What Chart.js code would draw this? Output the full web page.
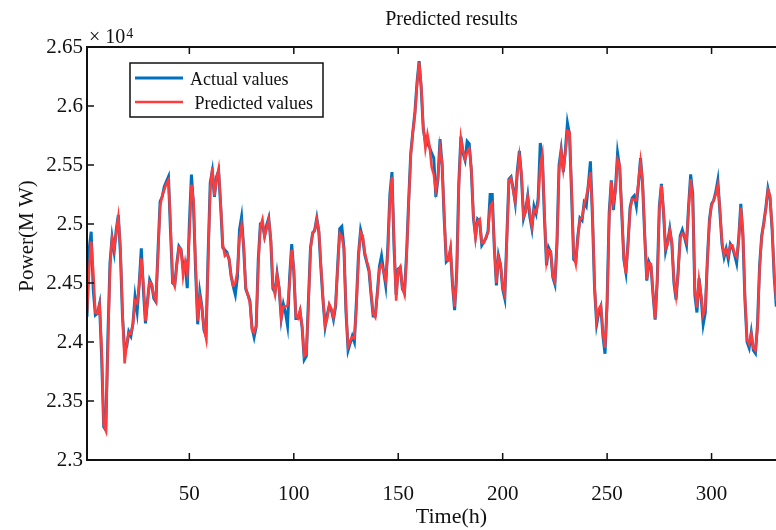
<!DOCTYPE html>
<html>
<head>
<meta charset="utf-8">
<script src="https://cdn.jsdelivr.net/npm/chart.js@4.4.1/dist/chart.umd.min.js"></script>
<style>
  html, body { margin: 0; padding: 0; background: #fff; overflow: hidden; }
  #wrap { width: 776px; height: 530px; overflow: hidden; }
  canvas { display: block; }
</style>
</head>
<body>
<div id="wrap"><canvas id="chart" width="830" height="530"></canvas></div>
<script>
// hourly load, MW (hours 1..331 visible in the figure)
const actualValues = [
  24215, 24780, 24934, 24440, 24229, 24243, 24322, 23876, 23282, 23254,
  24045, 24667, 24887, 24765, 24949, 25076, 24751, 24215, 23932, 23960,
  24087, 24050, 24158, 24384, 24257, 24497, 24794, 24440, 24158, 24356,
  24525, 24483, 24370, 24342, 24780, 25189, 25231, 25316, 25359, 25400,
  24930, 24500, 24484, 24668, 24810, 24781, 24640, 24668, 24456, 25000,
  25418, 25150, 24600, 24150, 24420, 24300, 24100, 24050, 24750, 25350,
  25450, 25230, 25400, 25450, 25150, 24800, 24780, 24760, 24700, 24560,
  24470, 24400, 24550, 24950, 25060, 24800, 24450, 24400, 24350, 24120,
  24040, 24130, 24700, 25000, 25000, 24900, 24990, 25050, 24850, 24450,
  24420, 24580, 24450, 24200, 24320, 24250, 24140, 24550, 24830, 24600,
  24200, 24200, 24260, 24120, 23850, 23880, 24350, 24800, 24920, 24950,
  25050, 24930, 24620, 24350, 24130, 24230, 24310, 24270, 24190, 24300,
  24650, 24960, 24979, 24800, 24250, 23930, 23990, 24050, 24000, 24350,
  24750, 24950, 24880, 24740, 24670, 24600, 24400, 24220, 24220, 24420,
  24640, 24730, 24600, 24480, 24800, 25250, 25440, 24800, 24400, 24620,
  24630, 24450, 24420, 24750, 25200, 25600, 25780, 25950, 26200, 26380,
  26150, 25800, 25700, 25680, 25650, 25600, 25560, 25230, 25380, 25720,
  25500, 25050, 24680, 24700, 24780, 24480, 24270, 24600, 25350, 25740,
  25600, 25540, 25700, 25680, 25450, 25050, 24900, 25040, 25020, 24820,
  24850, 24880, 24940, 25250, 25250, 24800, 24480, 24730, 24650, 24450,
  24370, 24900, 25380, 25400, 25300, 25180, 25450, 25620, 25400, 25050,
  25120, 25240, 25060, 24960, 25150, 25090, 25220, 25686, 25560, 25050,
  24650, 24800, 24760, 24550, 24490, 24850, 25500, 25630, 25440, 25620,
  25856, 25760, 25250, 24700, 24680, 24900, 25050, 25030, 25180, 25150,
  25330, 25531, 25050, 24450, 24150, 24250, 24300, 24050, 23900, 24350,
  25100, 25370, 25120, 25300, 25602, 25480, 25100, 24700, 24590, 24840,
  25140, 25220, 25240, 25150, 25340, 25559, 25330, 24900, 24520, 24680,
  24640, 24400, 24190, 24530, 25150, 25340, 25100, 24770, 24850, 24960,
  24830, 24500, 24360, 24600, 24900, 24950, 24890, 24820, 25150, 25420,
  25250, 24400, 24250, 24540, 24380, 24150, 24250, 24700, 25040, 25170,
  25200, 25270, 25370, 25100, 24830, 24720, 24790, 24700, 24830, 24800,
  24740, 24668, 24880, 25170, 24900, 24350, 24000, 23950, 24080, 23930,
  23904, 24150, 24650, 24900, 25010, 25140, 25300, 25220, 24950, 24550,
  24300
];

const predictedValues = [
  24250, 24600, 24850, 24600, 24250, 24240, 24320, 23950, 23300, 23250,
  23950, 24620, 24880, 24790, 24930, 25060, 24800, 24250, 23819, 23980,
  24080, 24073, 24150, 24350, 24327, 24480, 24709, 24500, 24180, 24340,
  24510, 24490, 24390, 24350, 24740, 25150, 25240, 25290, 25340, 25373,
  25000, 24520, 24470, 24650, 24800, 24790, 24560, 24680, 24580, 24900,
  25333, 25200, 24650, 24180, 24380, 24290, 24120, 24030, 24700, 25300,
  25480, 25240, 25380, 25470, 25180, 24830, 24730, 24745, 24710, 24560,
  24480, 24500, 24600, 24880, 24990, 24820, 24460, 24400, 24330, 24100,
  24080, 24140, 24650, 24980, 25040, 24890, 24960, 25040, 24880, 24480,
  24400, 24570, 24460, 24200, 24300, 24300, 24310, 24500, 24780, 24620,
  24220, 24200, 24270, 24130, 23880, 23900, 24300, 24780, 24930, 24940,
  25040, 24950, 24650, 24370, 24140, 24200, 24320, 24280, 24210, 24320,
  24620, 24920, 24894, 24790, 24280, 23960, 24010, 24040, 24030, 24300,
  24720, 24930, 24900, 24760, 24680, 24620, 24420, 24240, 24210, 24400,
  24620, 24660, 24600, 24520, 24750, 25200, 25400, 24850, 24350, 24610,
  24640, 24460, 24400, 24720, 25170, 25580, 25780, 25930, 26180, 26370,
  26180, 25820, 25640, 25760, 25660, 25480, 25420, 25280, 25390, 25650,
  25520, 25080, 24700, 24690, 24800, 24500, 24300, 24550, 25300, 25730,
  25620, 25550, 25610, 25640, 25470, 25080, 24880, 25020, 25040, 24840,
  24840, 24890, 24930, 25150, 25177, 24820, 24500, 24720, 24660, 24470,
  24400, 24850, 25370, 25390, 25290, 25190, 25420, 25580, 25430, 25060,
  25100, 25230, 25100, 24980, 25120, 25100, 25180, 25500, 25590, 25100,
  24680, 24780, 24770, 24560, 24510, 24820, 25450, 25620, 25460, 25600,
  25790, 25780, 25300, 24740, 24660, 24880, 25040, 25050, 25160, 25230,
  25320, 25440, 25100, 24480, 24180, 24280, 24310, 24080, 23950, 24300,
  25050, 25360, 25177, 25280, 25545, 25500, 25120, 24720, 24580, 24820,
  25120, 25210, 25205, 25200, 25350, 25531, 25360, 24920, 24530, 24670,
  24660, 24410, 24200, 24500, 25120, 25330, 25120, 24790, 24830, 24950,
  24850, 24520, 24390, 24580, 24880, 24920, 24900, 24850, 25120, 25380,
  25200, 24450, 24290, 24530, 24400, 24230, 24290, 24680, 25020, 25160,
  25200, 25250, 25330, 25130, 24850, 24740, 24780, 24730, 24820, 24820,
  24750, 24720, 24850, 25140, 24950, 24380, 24020, 23980, 24070, 23950,
  23930, 24120, 24620, 24890, 25000, 25130, 25290, 25240, 24970, 24580,
  24350
];

const xTicks = [50, 100, 150, 200, 250, 300];
const yTicks = [23000, 23500, 24000, 24500, 25000, 25500, 26000, 26500];

const FONT = "'Liberation Serif', 'Times New Roman', serif";
const INK = "#111";

function toPoints(values) {
  return values.map((v, i) => ({ x: i + 1, y: v }));
}

// MATLAB style box: inward ticks, exponent label, y label and boxed legend
const framePlugin = {
  id: "frame",
  afterDraw(chart) {
    const { ctx, chartArea: a, scales } = chart;
    ctx.save();
    ctx.strokeStyle = INK;
    ctx.lineWidth = 2;
    ctx.strokeRect(a.left, a.top, a.right - a.left, a.bottom - a.top);

    ctx.lineWidth = 1.5;
    ctx.beginPath();
    xTicks.forEach(t => {
      const x = scales.x.getPixelForValue(t);
      ctx.moveTo(x, a.bottom); ctx.lineTo(x, a.bottom - 7);
      ctx.moveTo(x, a.top); ctx.lineTo(x, a.top + 7);
    });
    yTicks.forEach(t => {
      const y = scales.y.getPixelForValue(t);
      ctx.moveTo(a.left, y); ctx.lineTo(a.left + 7, y);
      ctx.moveTo(a.right, y); ctx.lineTo(a.right - 7, y);
    });
    ctx.stroke();

    // x 10^4
    ctx.fillStyle = INK;
    ctx.textBaseline = "alphabetic";
    ctx.textAlign = "left";
    ctx.font = "20px " + FONT;
    ctx.fillText("\u00d7 10", a.left + 2, a.top - 4);
    const w = ctx.measureText("\u00d7 10").width;
    ctx.font = "14px " + FONT;
    ctx.fillText("4", a.left + 3 + w, a.top - 9);

    // y label, sits a little above the axis middle like the original
    ctx.save();
    ctx.translate(27, 236);
    ctx.rotate(-Math.PI / 2);
    ctx.textAlign = "center";
    ctx.textBaseline = "middle";
    ctx.font = "21px " + FONT;
    ctx.fillText("Power(M W)", 0, 0);
    ctx.restore();

    // legend
    const bx = 130, by = 63, bw = 193, bh = 54;
    ctx.fillStyle = "#fff";
    ctx.fillRect(bx, by, bw, bh);
    ctx.lineWidth = 1.5;
    ctx.strokeStyle = INK;
    ctx.strokeRect(bx, by, bw, bh);
    chart.data.datasets.forEach((ds, i) => {
      const y = by + 15 + i * 24;
      ctx.strokeStyle = ds.borderColor;
      ctx.lineWidth = ds.borderWidth;
      ctx.beginPath();
      ctx.moveTo(bx + 5, y);
      ctx.lineTo(bx + 53, y);
      ctx.stroke();
      ctx.fillStyle = INK;
      ctx.font = "18px " + FONT;
      ctx.textBaseline = "middle";
      ctx.fillText(ds.label, bx + 60, y + 2);
    });
    ctx.restore();
  }
};

new Chart(document.getElementById("chart"), {
  type: "line",
  data: {
    datasets: [
      {
        label: "Actual values",
        data: toPoints(actualValues),
        borderColor: "#0072BD",
        borderWidth: 3,
        pointRadius: 0,
        tension: 0,
        order: 1
      },
      {
        label: " Predicted values",
        data: toPoints(predictedValues),
        borderColor: "#FF3B3B",
        borderWidth: 2.5,
        pointRadius: 0,
        tension: 0,
        order: 0
      }
    ]
  },
  options: {
    responsive: false,
    animation: false,
    layout: { padding: { left: 0, right: 14, top: 0, bottom: 0 } },
    plugins: {
      legend: { display: false },
      tooltip: { enabled: false },
      title: {
        display: true,
        text: "Predicted results",
        fullSize: false,
        color: INK,
        font: { family: FONT, size: 20, weight: "normal" },
        padding: { top: 8, bottom: 15 }
      }
    },
    scales: {
      x: {
        type: "linear",
        min: 1,
        max: 350,
        afterBuildTicks: s => { s.ticks = xTicks.map(v => ({ value: v })); },
        afterFit: s => { s.height = 70; },
        grid: { display: false, drawTicks: false, tickLength: 0 },
        border: { display: false },
        ticks: {
          color: INK,
          font: { family: FONT, size: 21 },
          padding: 22,
          maxRotation: 0,
          autoSkip: false
        },
        title: {
          display: true,
          text: "Time(h)",
          color: INK,
          font: { family: FONT, size: 22 },
          padding: { top: 0, bottom: 0 }
        }
      },
      y: {
        min: 23000,
        max: 26500,
        afterBuildTicks: s => { s.ticks = yTicks.map(v => ({ value: v })); },
        afterFit: s => { s.width = 87; },
        grid: { display: false, drawTicks: false, tickLength: 0 },
        border: { display: false },
        ticks: {
          color: INK,
          font: { family: FONT, size: 21 },
          padding: 4,
          callback: v => String(+(v / 10000).toFixed(2))
        }
      }
    }
  },
  plugins: [framePlugin]
});
</script>
</body>
</html>
